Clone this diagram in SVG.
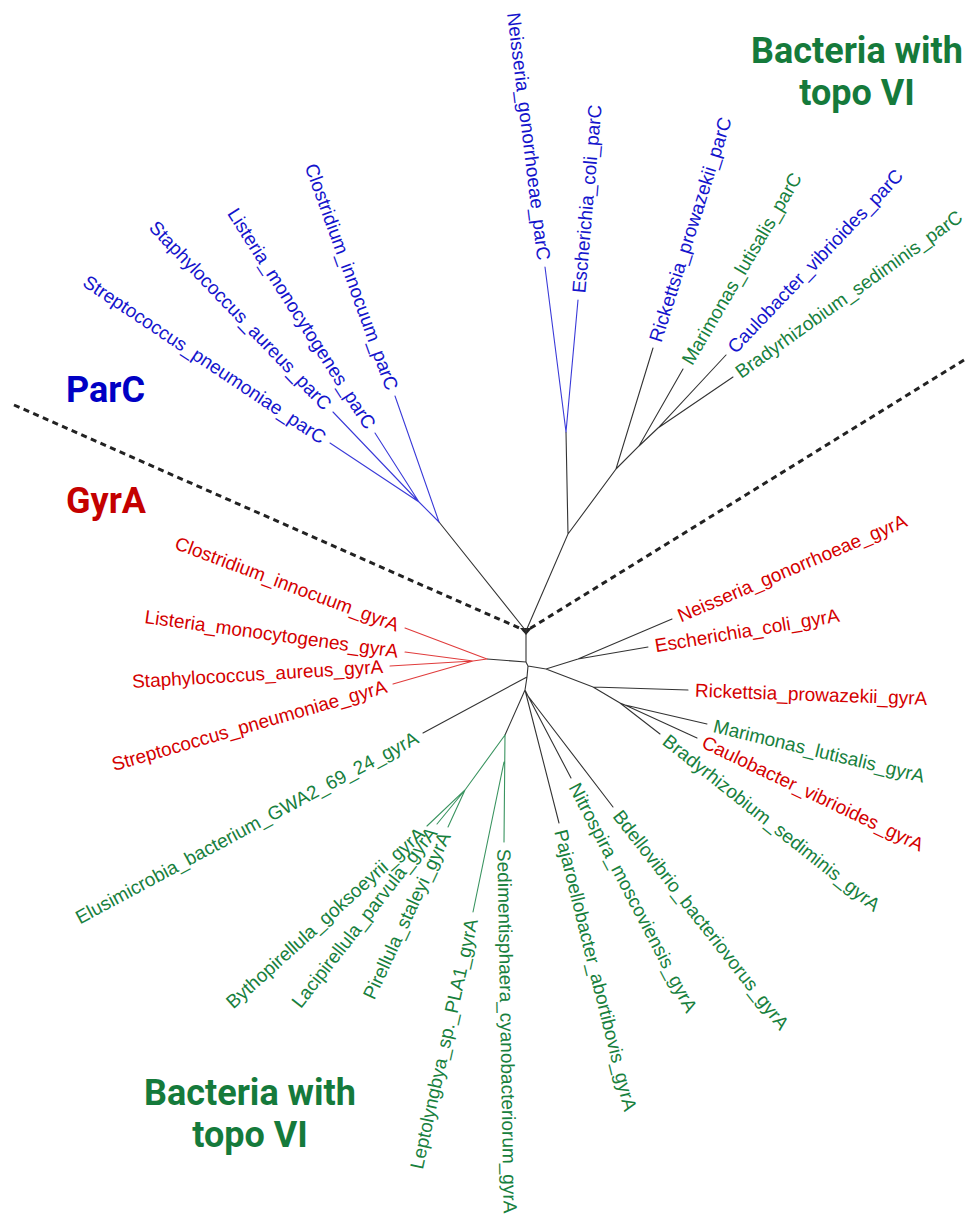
<svg xmlns="http://www.w3.org/2000/svg" width="966" height="1214" viewBox="0 0 966 1214">
<style>
.lb{font-family:"Liberation Sans",Arial,sans-serif;font-size:19px}
.b{fill:#1414cc}.r{fill:#d40000}.g{fill:#17803d}
.e{text-anchor:end}
.hd{font-family:Roboto,"Liberation Sans",sans-serif;font-weight:700;font-size:36px}
.br{fill:none;stroke-width:1.1;stroke-linecap:round}
.k{stroke:#333}.bl{stroke:#3a3ad8}.rd{stroke:#e03c3c}.gr{stroke:#3a9460}
.dash{fill:none;stroke:#222;stroke-width:3;stroke-dasharray:6 4.5}
</style>
<rect width="966" height="1214" fill="#fff"/>
<g id="connectors">
<path class="dash" d="M14,405 L526,631 M964,360 L526,631"/>
<polygon points="520,628 532,628 526,635" fill="#222"/>
<path class="br k" d="M526,631 L526,662 L528,666 L527,677 L525,690 M526,631 L439,522 M526,631 L568,534 L566,432 M568,534 L616,469 L653,348 M616,469 L639,446 L683,369 M639,446 L658,428 L726,355 M658,428 L733,377 M526,662 L487,659 M528,666 L546,669 L578,659 L672,619 M578,659 L648,647 M546,669 L593,687 L688,690 M593,687 L620,703 L660,734 M620,703 L625,705 L707,724 M625,705 L697,738 M527,677 L423,733 M525,690 L505,735 M525,690 L559,823 M525,690 L528,696 L571,778 M528,696 L613,807"/>
<path class="br bl" d="M439,522 L395,396 M439,522 L419,502 L330,443 M419,502 L333,412 M419,502 L375,433 M566,432 L545,267 M566,432 L578,300"/>
<path class="br rd" d="M487,659 L405,628 M487,659 L473,661 L405,652 M473,661 L390,666 M473,661 L393,684"/>
<path class="br gr" d="M505,735 L465,790 L427,826 M465,790 L437,824 M465,790 L448,827 M505,735 L504,842 M504,762 L473,912"/>
</g>
<g id="label-parc"><text class="hd" x="66" y="402" fill="#0000c4">ParC</text></g>
<g id="label-gyra"><text class="hd" x="66" y="513" fill="#c40000">GyrA</text></g>
<g id="label-topo-top"><text class="hd" text-anchor="middle" fill="#157a3b"><tspan x="857" y="63">Bacteria with</tspan><tspan x="857" y="105">topo VI</tspan></text></g>
<g id="label-topo-bottom"><text class="hd" text-anchor="middle" fill="#157a3b"><tspan x="250" y="1105">Bacteria with</tspan><tspan x="250" y="1147">topo VI</tspan></text></g>
<g id="strep-parc"><text class="lb b e" dy="0.35em" transform="translate(324.2 439.1) rotate(33.7)">Streptococcus_pneumoniae_parC</text></g>
<g id="staph-parc"><text class="lb b e" dy="0.35em" transform="translate(328.2 406.9) rotate(46.2)">Staphylococcus_aureus_parC</text></g>
<g id="listeria-parc"><text class="lb b e" dy="0.35em" transform="translate(371.2 427.1) rotate(57.4)">Listeria_monocytogenes_parC</text></g>
<g id="clostridium-parc"><text class="lb b e" dy="0.35em" transform="translate(392.7 389.4) rotate(70)">Clostridium_innocuum_parC</text></g>
<g id="neisseria-parc"><text class="lb b e" dy="0.35em" transform="translate(544.1 260.1) rotate(83)">Neisseria_gonorrhoeae_parC</text></g>
<g id="escherichia-parc"><text class="lb b" dy="0.35em" transform="translate(578.6 293) rotate(-85)">Escherichia_coli_parC</text></g>
<g id="rickettsia-parc"><text class="lb b" dy="0.35em" transform="translate(655 341.3) rotate(-72.5)">Rickettsia_prowazekii_parC</text></g>
<g id="marimonas-parc"><text class="lb g" dy="0.35em" transform="translate(686.5 362.9) rotate(-59.7)">Marimonas_lutisalis_parC</text></g>
<g id="caulobacter-parc"><text class="lb b" dy="0.35em" transform="translate(730.8 349.9) rotate(-46.5)">Caulobacter_vibrioides_parC</text></g>
<g id="bradyrhizobium-parc"><text class="lb g" dy="0.35em" transform="translate(737.5 373.5) rotate(-35.5)">Bradyrhizobium_sediminis_parC</text></g>
<g id="clostridium-gyra"><text class="lb r e" dy="0.35em" transform="translate(398.5 625.5) rotate(20.5)">Clostridium_innocuum_gyrA</text></g>
<g id="listeria-gyra"><text class="lb r e" dy="0.35em" transform="translate(398.1 651.1) rotate(7.8)">Listeria_monocytogenes_gyrA</text></g>
<g id="staph-gyra"><text class="lb r e" dy="0.35em" transform="translate(383 666.4) rotate(-3.4)">Staphylococcus_aureus_gyrA</text></g>
<g id="strep-gyra"><text class="lb r e" dy="0.35em" transform="translate(386.3 685.9) rotate(-16)">Streptococcus_pneumoniae_gyrA</text></g>
<g id="neisseria-gyra"><text class="lb r" dy="0.35em" transform="translate(678.4 616.3) rotate(-23)">Neisseria_gonorrhoeae_gyrA</text></g>
<g id="escherichia-gyra"><text class="lb r" dy="0.35em" transform="translate(654.9 645.8) rotate(-9.5)">Escherichia_coli_gyrA</text></g>
<g id="rickettsia-gyra"><text class="lb r" dy="0.35em" transform="translate(695 690.2) rotate(2)">Rickettsia_prowazekii_gyrA</text></g>
<g id="marimonas-gyra"><text class="lb g" dy="0.35em" transform="translate(713.8 725.6) rotate(13.5)">Marimonas_lutisalis_gyrA</text></g>
<g id="caulobacter-gyra"><text class="lb r" dy="0.35em" transform="translate(703.3 741) rotate(25.5)">Caulobacter_vibrioides_gyrA</text></g>
<g id="bradyrhizobium-gyra"><text class="lb g" dy="0.35em" transform="translate(665.5 738.3) rotate(38.5)">Bradyrhizobium_sediminis_gyrA</text></g>
<g id="elusimicrobia-gyra"><text class="lb g e" dy="0.35em" transform="translate(416.8 736.3) rotate(-28.2)">Elusimicrobia_bacterium_GWA2_69_24_gyrA</text></g>
<g id="bythopirellula-gyra"><text class="lb g e" dy="0.35em" transform="translate(421.8 830.7) rotate(-42)">Bythopirellula_goksoeyrii_gyrA</text></g>
<g id="lacipirellula-gyra"><text class="lb g e" dy="0.35em" transform="translate(432.7 829.5) rotate(-52)">Lacipirellula_parvula_gyrA</text></g>
<g id="pirellula-gyra"><text class="lb g e" dy="0.35em" transform="translate(445 833.3) rotate(-65)">Pirellula_staleyi_gyrA</text></g>
<g id="leptolyngbya-gyra"><text class="lb g e" dy="0.35em" transform="translate(471.6 918.9) rotate(-77.5)">Leptolyngbya_sp._PLA1_gyrA</text></g>
<g id="sedimentisphaera-gyra"><text class="lb g" dy="0.35em" transform="translate(504 849) rotate(89)">Sedimentisphaera_cyanobacteriorum_gyrA</text></g>
<g id="pajaroellobacter-gyra"><text class="lb g" dy="0.35em" transform="translate(560.7 829.8) rotate(76)">Pajaroellobacter_abortibovis_gyrA</text></g>
<g id="nitrospira-gyra"><text class="lb g" dy="0.35em" transform="translate(574.2 784.2) rotate(62.5)">Nitrospira_moscoviensis_gyrA</text></g>
<g id="bdellovibrio-gyra"><text class="lb g" dy="0.35em" transform="translate(617.3 812.5) rotate(52)">Bdellovibrio_bacteriovorus_gyrA</text></g>
</svg>
